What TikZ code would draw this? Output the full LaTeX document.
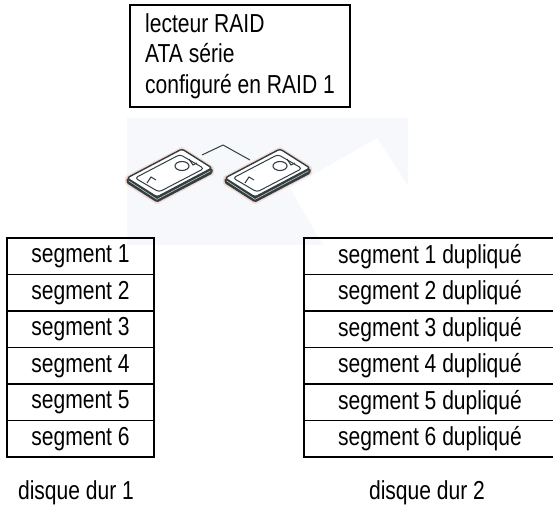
\documentclass[tikz,border=0pt]{standalone}
\usepackage{fontspec}
\setmainfont{Liberation Sans}[FakeStretch=0.81]
\definecolor{plattengrau}{RGB}{50,62,64}
\definecolor{grund}{RGB}{246,248,252}
\definecolor{saum}{RGB}{238,200,186}

% eine Festplatte, Ursprung an der linken Ecke
\newcommand{\platte}[1]{%
  \begin{scope}[shift={#1}]
    % Farbsaum
    \draw[saum, line width=4pt, line join=round, opacity=0.6]
      (0,0) -- (0,5) -- (30,24) -- (85,-5) -- (85,-10) -- (55,-29) -- cycle;
    % Gehaeuse
    \fill[plattengrau, rounded corners=1.5pt]
      (-0.5,0) -- (-0.5,5) -- (30,24.5) -- (85.5,-4.5) -- (85.5,-10) -- (30,19) -- cycle;
    \draw[white!70!plattengrau, line width=0.6pt] (1.5,2.8) -- (30,21.4) -- (83.5,-7);
    % Oberseite
    \draw[plattengrau, line width=1.4pt, fill=white, rounded corners=2.5pt]
      (0,0) -- (55,-29) -- (85,-10) -- (30,19) -- cycle;
    % innere Kontur
    \draw[plattengrau, line width=1pt, rounded corners=3pt]
      (8,0) -- (53,-23.5) -- (77,-9.5) -- (32,14) -- cycle;
    \draw[plattengrau, line width=1pt] (20,5) -- (24,-1) -- (29,2);
    \draw[plattengrau, line width=1pt] (62,-19) -- (66,-13) -- (70,-15);
    % Spindel
    \draw[plattengrau, line width=1.1pt] (55,-12) ellipse (7 and 4.5);
  \end{scope}}

\begin{document}
\begin{tikzpicture}[x=1pt, y=-1pt,
    every node/.style={font=\fontsize{26}{30.5}\selectfont, inner sep=0pt},
    kasten/.style={draw, line width=1.8pt, minimum width=220pt,
      minimum height=102pt, align=left},
    zelle/.style={draw, line width=1.8pt, minimum height=36.5pt},
    leitung/.style={plattengrau, line width=1pt}]
  \clip (0,0) rectangle (553,505);
  % Kopf
  \node[kasten] (raid) at (240,56) {lecteur RAID\\ATA série\\configuré en RAID 1};
  % Hintergrund der Abbildung
  \fill[grund] (127,118) rectangle (408,245);
  \fill[white] (290,188) -- (377,138) -- (408,186) -- (408,245) -- (323,245) -- cycle;
  % Leitungen
  \coordinate (oben) at (223,118);
  \coordinate (knoten) at (223,145);
  \coordinate (p1) at (202,155);
  \coordinate (p2) at (250,160);
  \draw[leitung, double=grund, double distance=1.2pt, line width=0.8pt] (oben) -- (knoten);
  \draw[leitung] (knoten) -- (p1);
  \draw[leitung] (knoten) -- (p2);
  % Platten
  \platte{(127,178)}
  \platte{(225,178)}
  % Segmente
  \foreach \i in {1,...,6} {
    \pgfmathsetmacro{\ym}{238+36.5*(\i-0.5)}
    \node[zelle, minimum width=147pt] (s\i) at (80.5,\ym) {segment \i};
    \node[zelle, minimum width=252pt] (k\i) at (430,\ym) {segment \i{} dupliqué};
  }
  % Beschriftung
  \node[anchor=base] (hd1) at (76,499) {disque dur 1};
  \node[anchor=base] (hd2) at (427,499) {disque dur 2};
\end{tikzpicture}
\end{document}
